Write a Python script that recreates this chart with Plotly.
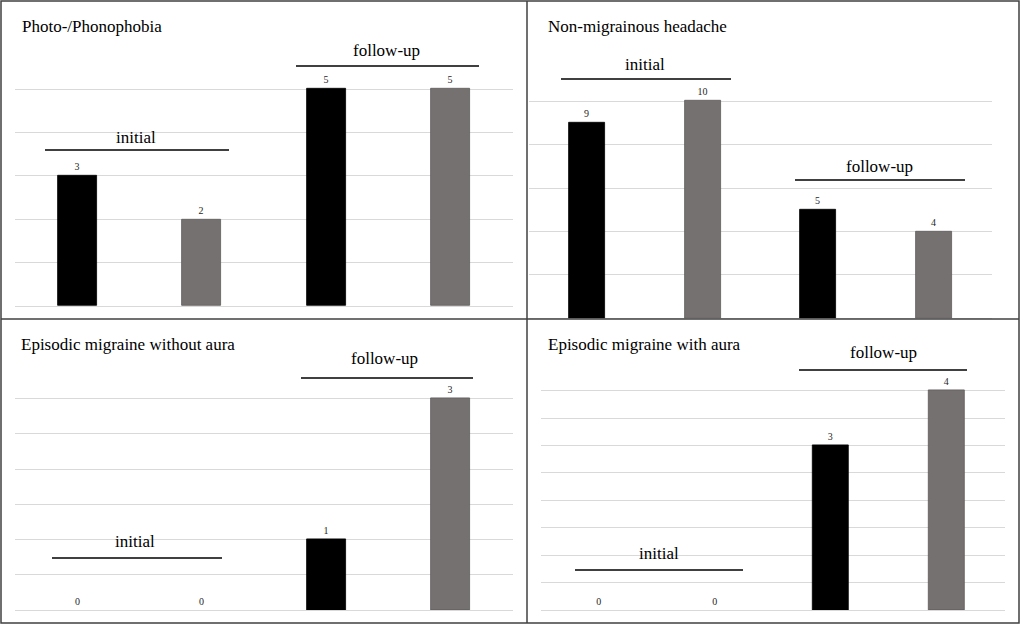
"""
Four-panel bar chart: symptom counts at initial and follow-up visits.
"""

import plotly.graph_objects as go

W, H = 1021, 626

# data
panel_titles = [
    "Photo-/Phonophobia",
    "Non-migrainous headache",
    "Episodic migraine without aura",
    "Episodic migraine with aura",
]
bar_slots = [0, 1, 2, 3]          # initial, initial, follow-up, follow-up
photo_phonophobia = [3, 2, 5, 5]
non_migrainous_headache = [9, 10, 5, 4]
migraine_without_aura = [0, 0, 1, 3]
migraine_with_aura = [0, 0, 3, 4]
axis_max = [6, 12, 3.5, 4.5]
axis_step = [1, 2, 0.5, 0.5]

panel_values = [
    photo_phonophobia,
    non_migrainous_headache,
    migraine_without_aura,
    migraine_with_aura,
]

SERIF = "Liberation Serif, Times New Roman, DejaVu Serif, serif"
BAR_COLORS = ["#000000", "#767171", "#000000", "#767171"]
EDGE_COLORS = ["#000000", "#5e5a5a", "#000000", "#5e5a5a"]
FRAME = "#404040"


def px(x):
    """Pixel x to paper x."""
    return x / W


def py(y):
    """Pixel y (from top) to paper y."""
    return 1 - y / H


# plot areas in pixels: (left, right, bottom, top)
areas = [
    (15, 513, 306, 45.7),
    (529, 992, 318.3, 57.7),
    (15, 513, 610, 363.3),
    (540.7, 1005, 610, 363.3),
]
title_pos = [(20, 27), (546, 27), (19, 344), (546, 344)]

# group brackets: (label, x0, x1, line y, text x, text y) in pixels
brackets = [
    [("initial", 45, 229, 150, 136, 137), ("follow-up", 296, 479, 66, 386, 50)],
    [("initial", 561, 731, 79, 645, 65), ("follow-up", 795, 965, 180, 879, 166)],
    [("follow-up", 301, 473, 378, 384, 358), ("initial", 52, 222, 558, 135, 541)],
    [("follow-up", 799, 967, 370, 883, 352), ("initial", 575, 743, 570, 659, 553)],
]

fig = go.Figure()
shapes = []
annotations = []

for i, values in enumerate(panel_values):
    n = i + 1
    xa = "x" if n == 1 else f"x{n}"
    ya = "y" if n == 1 else f"y{n}"
    left, right, bottom, top = areas[i]

    fig.add_trace(go.Bar(
        x=bar_slots,
        y=values,
        width=0.31,
        marker={"color": BAR_COLORS,
                "line": {"color": EDGE_COLORS,
                         "width": [0.8 if v else 0 for v in values]}},
        text=[str(v) for v in values],
        textposition="outside",
        textfont={"family": SERIF, "size": 10, "color": "#262626"},
        cliponaxis=False,
        showlegend=False,
        hoverinfo="skip",
        xaxis=xa,
        yaxis=ya,
    ))

    fig.update_layout({
        f"xaxis{'' if n == 1 else n}": {
            "domain": [px(left), px(right)],
            "range": [-0.5, 3.5],
            "visible": False,
            "anchor": ya,
        },
        f"yaxis{'' if n == 1 else n}": {
            "domain": [py(bottom), py(top)],
            "range": [0, axis_max[i]],
            "dtick": axis_step[i],
            "showticklabels": False,
            "showgrid": True,
            "gridcolor": "#d9d9d9",
            "gridwidth": 1,
            "zeroline": True,
            "zerolinecolor": "#d9d9d9",
            "zerolinewidth": 1,
            "showline": False,
            "anchor": xa,
        },
    })

    tx, ty = title_pos[i]
    annotations.append({
        "text": panel_titles[i], "xref": "paper", "yref": "paper",
        "x": px(tx), "y": py(ty), "xanchor": "left", "yanchor": "middle",
        "showarrow": False, "font": {"family": SERIF, "size": 17, "color": "#000"},
    })

    for label, x0, x1, ly, lx, lty in brackets[i]:
        shapes.append({
            "type": "line", "xref": "paper", "yref": "paper",
            "x0": px(x0), "x1": px(x1), "y0": py(ly), "y1": py(ly),
            "line": {"color": "#000", "width": 1.6},
        })
        annotations.append({
            "text": label, "xref": "paper", "yref": "paper",
            "x": px(lx), "y": py(lty), "xanchor": "center", "yanchor": "middle",
            "showarrow": False, "font": {"family": SERIF, "size": 17, "color": "#000"},
        })

# panel frame
shapes.append({"type": "rect", "xref": "paper", "yref": "paper",
               "x0": px(1), "x1": px(1019), "y0": py(623), "y1": py(1),
               "line": {"color": FRAME, "width": 1.5}})
shapes.append({"type": "line", "xref": "paper", "yref": "paper",
               "x0": px(527), "x1": px(527), "y0": py(623), "y1": py(1),
               "line": {"color": FRAME, "width": 1.5}})
shapes.append({"type": "line", "xref": "paper", "yref": "paper",
               "x0": px(1), "x1": px(1019), "y0": py(319), "y1": py(319),
               "line": {"color": FRAME, "width": 1.5}})

fig.update_layout(
    width=W,
    height=H,
    margin={"l": 0, "r": 0, "t": 0, "b": 0},
    paper_bgcolor="white",
    plot_bgcolor="white",
    bargap=0,
    shapes=shapes,
    annotations=annotations,
)

# drop the default page margin so the figure sits at the window corner
fig.write_html(
    "out.html",
    config={"displayModeBar": False},
    post_script="document.body.style.margin = '0';",
)
